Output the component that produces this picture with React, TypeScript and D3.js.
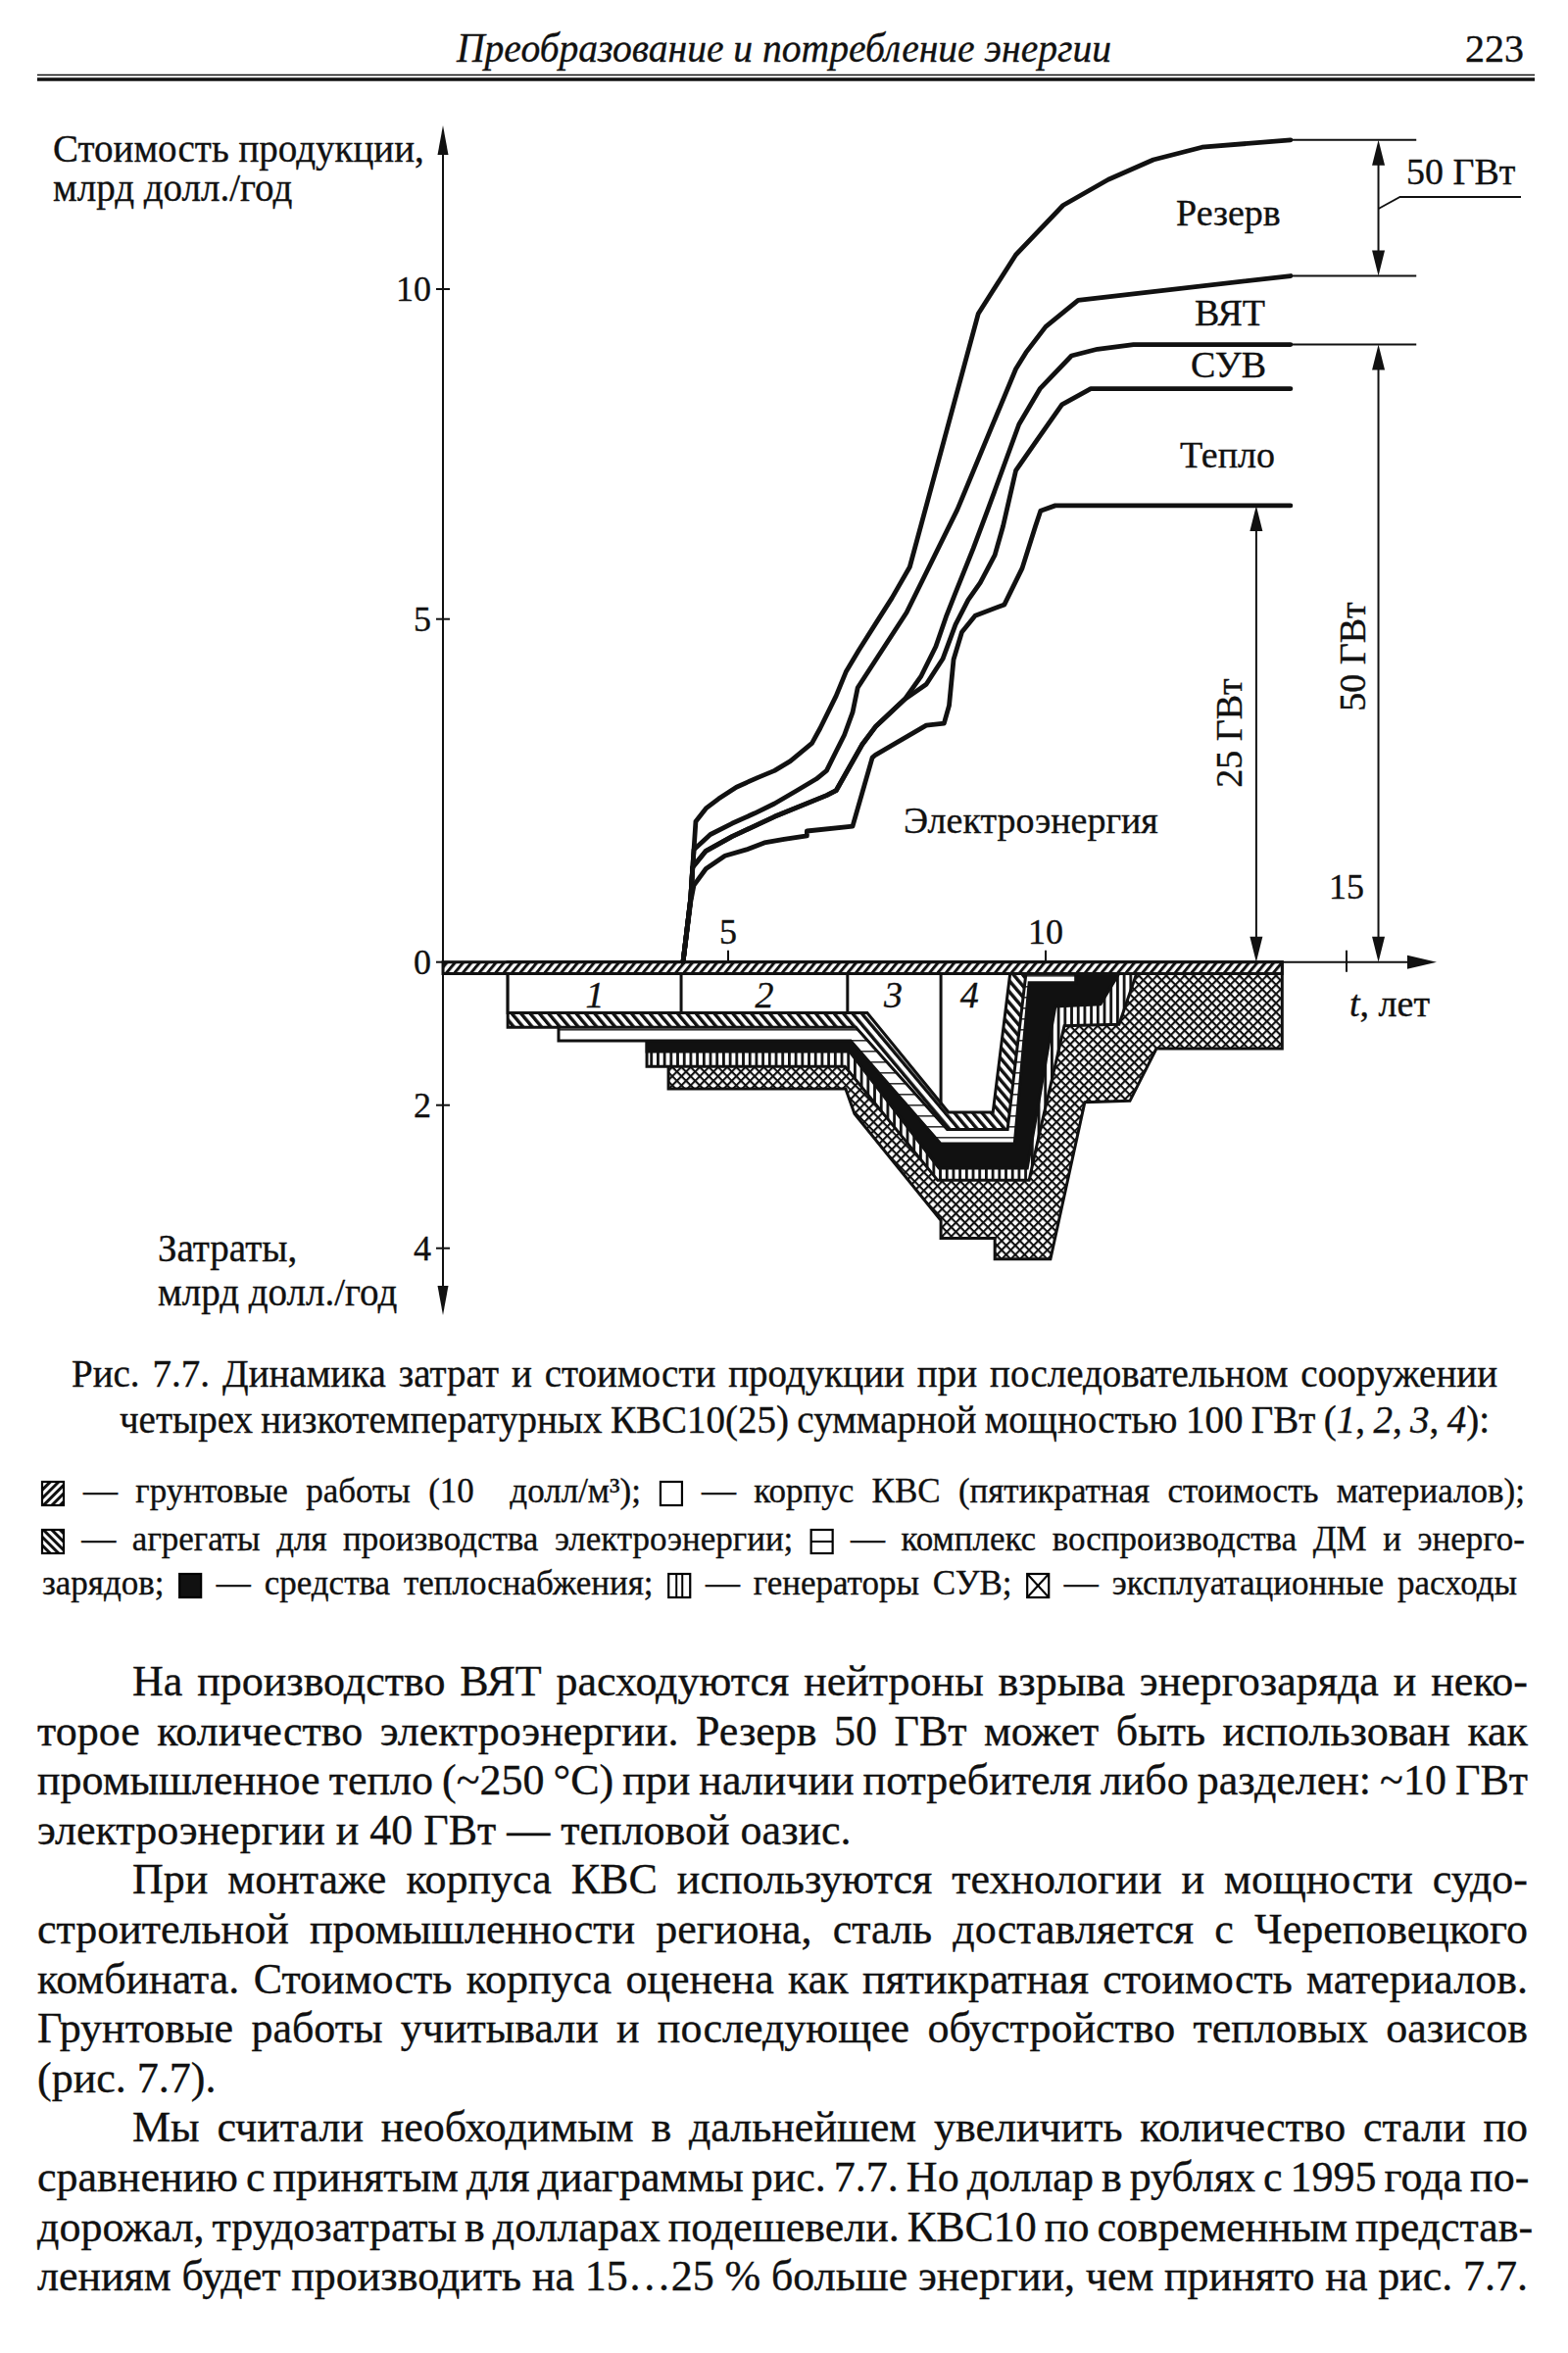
import React from 'react';
import * as d3 from 'd3';

type P = [number, number];

// ---------- axes ----------
const timeTicks = [5, 10, 15];
const valueTicks = [0, 5, 10];
const costTicks = [2, 4];
const timeTickLabels = ['5', '10', '15'];

// ---------- product value (bln $/yr) vs t (years): upper edge of each band ----------
const reserveTop: P[] = [
  [4.29, 0], [4.41, 0.93], [4.49, 2.05], [4.65, 2.24], [4.85, 2.38], [5.13, 2.55], [5.47, 2.69],
  [5.73, 2.79], [5.98, 2.93], [6.32, 3.19], [6.45, 3.41], [6.7, 3.88], [6.86, 4.24], [7.06, 4.55],
  [7.32, 4.93], [7.58, 5.32], [7.86, 5.79], [8.94, 9.63], [9.53, 10.52], [10.29, 11.27],
  [11.04, 11.66], [11.79, 11.96], [12.6, 12.15], [14.07, 12.26],
];
const vytTop: P[] = [
  [4.29, 0], [4.41, 0.93], [4.46, 1.64], [4.72, 1.86], [5.06, 2.02], [5.42, 2.17], [5.73, 2.31],
  [6.08, 2.5], [6.39, 2.67], [6.55, 2.79], [6.7, 3.07], [6.83, 3.31], [6.96, 3.64], [7.04, 4.0],
  [7.81, 5.1], [8.61, 6.66], [9.53, 8.79], [9.69, 9.04], [10.0, 9.43], [10.54, 9.83], [14.07, 10.2],
];
const suvTop: P[] = [
  [4.29, 0], [4.41, 0.93], [4.44, 1.38], [4.65, 1.62], [5.06, 1.83], [5.73, 2.12], [6.55, 2.43],
  [6.7, 2.5], [7.11, 3.17], [7.32, 3.43], [7.78, 3.83], [8.04, 4.17], [8.27, 4.6], [8.43, 5.03],
  [8.58, 5.4], [8.86, 6.07], [9.09, 6.66], [9.58, 7.95], [9.91, 8.49], [10.43, 8.99], [10.86, 9.09],
  [11.46, 9.16], [14.07, 9.16],
];
const heatTop: P[] = [
  [4.29, 0], [4.41, 0.93], [4.44, 1.38], [4.65, 1.62], [5.06, 1.83], [5.73, 2.12], [6.55, 2.43],
  [6.7, 2.5], [7.11, 3.17], [7.32, 3.43], [7.78, 3.83], [8.12, 4.05], [8.38, 4.42], [8.58, 4.92],
  [8.78, 5.29], [8.97, 5.55], [9.2, 5.97], [9.33, 6.41], [9.53, 7.25], [9.89, 7.75], [10.27, 8.25],
  [10.75, 8.49], [14.07, 8.49],
];
const elecTop: P[] = [
  [4.29, 0], [4.41, 0.88], [4.46, 1.12], [4.65, 1.36], [4.95, 1.55], [5.29, 1.64], [5.57, 1.74],
  [5.88, 1.79], [6.24, 1.84], [6.24, 1.91], [6.96, 1.98], [7.27, 2.98], [7.32, 3.02], [8.12, 3.45],
  [8.4, 3.48], [8.48, 3.74], [8.55, 4.41], [8.68, 4.81], [8.89, 5.05], [9.35, 5.22], [9.63, 5.77],
  [9.84, 6.41], [9.92, 6.64], [10.16, 6.72], [14.07, 6.72],
];

// ---------- costs (bln $/yr), cumulative lower edge of each layer ----------
const costGround: P[] = [[0.51, 0.16], [13.93, 0.16]];
const costHull: P[] = [[1.53, 0.71], [7.19, 0.71], [8.47, 2.1], [9.17, 2.1], [9.44, 0.16]];
const costAggregates: P[] = [[1.53, 0.91], [7.01, 0.91], [8.45, 2.34], [9.4, 2.34], [9.69, 0.16]];
const costDM: P[] = [[2.33, 1.1], [6.93, 1.1], [8.35, 2.54], [9.51, 2.54], [9.74, 0.29], [10.5, 0.29], [10.5, 0.16]];
const costHeat: P[] = [[3.72, 1.25], [6.91, 1.25], [8.32, 2.88], [9.71, 2.88], [10.16, 0.62], [10.91, 0.59], [11.22, 0.16]];
const costSUV: P[] = [[3.72, 1.46], [6.84, 1.46], [8.3, 3.05], [9.74, 3.05], [9.89, 2.44], [10.31, 0.89], [11.22, 0.87], [11.51, 0.16]];
const costOperating: P[] = [
  [4.06, 1.77], [6.85, 1.77], [6.99, 2.12], [8.35, 3.61], [8.35, 3.86], [9.2, 3.86], [9.2, 4.15],
  [10.08, 4.15], [10.65, 1.96], [11.4, 1.94], [11.84, 1.21], [13.93, 1.21],
];

// units 1..4 (hull boxes)
const unitNames = ['1', '2', '3', '4'];
const unitLabelT = [2.9, 5.57, 7.6, 8.8];
const unitSeparators: P[] = [[4.26, 0.71], [6.88, 0.71], [8.35, 2.0]];

// annotation anchors (t)
const dim25T = 13.5;
const dim50T = 15.53;
const extensionEndT = 16.16;

// ---------- text ----------
const headerTitle = 'Преобразование и потребление энергии';
const pageNumber = '223';
const bandLabels = ['Резерв', 'ВЯТ', 'СУВ', 'Тепло', 'Электроэнергия'];

const captionLine1 = 'Рис. 7.7. Динамика затрат и стоимости продукции при последовательном сооружении';
const captionLine2 = 'четырех низкотемпературных КВС10(25) суммарной мощностью 100 ГВт (';

type LItem = string | { icon: string };
const legendLines: LItem[][] = [
  [{ icon: 'ground' }, '— грунтовые работы (10  долл/м³);', { icon: 'hull' }, '— корпус КВС (пятикратная стоимость материалов);'],
  [{ icon: 'agg' }, '— агрегаты для производства электроэнергии;', { icon: 'dm' }, '— комплекс воспроизводства ДМ и энерго-'],
  ['зарядов;', { icon: 'heat' }, '— средства теплоснабжения;', { icon: 'suv' }, '— генераторы СУВ;', { icon: 'op' }, '— эксплуатационные расходы'],
];

const bodyLines: { text: string; indent?: boolean; last?: boolean }[] = [
  { text: 'На производство ВЯТ расходуются нейтроны взрыва энергозаряда и неко-', indent: true },
  { text: 'торое количество электроэнергии. Резерв 50 ГВт может быть использован как' },
  { text: 'промышленное тепло (~250 °С) при наличии потребителя либо разделен: ~10 ГВт' },
  { text: 'электроэнергии и 40 ГВт — тепловой оазис.', last: true },
  { text: 'При монтаже корпуса КВС используются технологии и мощности судо-', indent: true },
  { text: 'строительной промышленности региона, сталь доставляется с Череповецкого' },
  { text: 'комбината. Стоимость корпуса оценена как пятикратная стоимость материалов.' },
  { text: 'Грунтовые работы учитывали и последующее обустройство тепловых оазисов' },
  { text: '(рис. 7.7).', last: true },
  { text: 'Мы считали необходимым в дальнейшем увеличить количество стали по', indent: true },
  { text: 'сравнению с принятым для диаграммы рис. 7.7. Но доллар в рублях с 1995 года по-' },
  { text: 'дорожал, трудозатраты в долларах подешевели. КВС10 по современным представ-' },
  { text: 'лениям будет производить на 15…25 % больше энергии, чем принято на рис. 7.7.' },
];

const FONT = '"Liberation Serif", "Times New Roman", serif';

let ctx: CanvasRenderingContext2D | null = null;
function measure(s: string, size: number, italic = false): number {
  if (!ctx && typeof document !== 'undefined') ctx = document.createElement('canvas').getContext('2d');
  if (!ctx) return s.length * size * 0.45;
  ctx.font = `${italic ? 'italic ' : ''}${size}px "Liberation Serif"`;
  return ctx.measureText(s).width;
}
const countSpaces = (s: string) => (s.match(/ /g) || []).length;

type Seg = { t: string; i?: boolean };
function JText({ x, y, size, width, segs }: { x: number; y: number; size: number; width?: number; segs: Seg[] }) {
  const full = segs.map((s) => s.t).join('');
  const w = segs.reduce((a, s) => a + measure(s.t, size, !!s.i), 0);
  const spaces = countSpaces(full);
  let ws = width && spaces ? (width - w) / spaces : 0;
  if (ws < -3) ws = -3;
  return (
    <text x={x} y={y} fontSize={size} style={{ wordSpacing: `${ws}px`, whiteSpace: 'pre' }}>
      {segs.map((s, k) => (
        <tspan key={k} fontStyle={s.i ? 'italic' : undefined}>{s.t}</tspan>
      ))}
    </text>
  );
}

function tri(xt: number, yt: number, dir: 'up' | 'down' | 'right', len = 26, hw = 6.5): string {
  if (dir === 'up') return `${xt},${yt} ${xt - hw},${yt + len} ${xt + hw},${yt + len}`;
  if (dir === 'down') return `${xt},${yt} ${xt - hw},${yt - len} ${xt + hw},${yt - len}`;
  return `${xt},${yt} ${xt - len},${yt - hw} ${xt - len},${yt + hw}`;
}

const ICON_W = 22;
const ICON_H = 24;
function LegendIcon({ x, y, kind }: { x: number; y: number; kind: string }) {
  const w = ICON_W, h = ICON_H;
  const fills: Record<string, string> = { ground: 'url(#pGroundS)', agg: 'url(#pAggS)', heat: '#111' };
  return (
    <g>
      <rect x={x} y={y} width={w} height={h} fill={fills[kind] || '#fff'} stroke="#000" strokeWidth={2.2} />
      {kind === 'dm' && <line x1={x} x2={x + w} y1={y + h / 2} y2={y + h / 2} stroke="#000" strokeWidth={2} />}
      {kind === 'suv' && (
        <g stroke="#000" strokeWidth={2}>
          <line x1={x + 8} x2={x + 8} y1={y} y2={y + h} />
          <line x1={x + 14} x2={x + 14} y1={y} y2={y + h} />
        </g>
      )}
      {kind === 'op' && (
        <g stroke="#000" strokeWidth={2}>
          <line x1={x} x2={x + w} y1={y} y2={y + h} />
          <line x1={x + w} x2={x} y1={y} y2={y + h} />
        </g>
      )}
    </g>
  );
}

function LegendLine({ items, x0, x1, y, size }: { items: LItem[]; x0: number; x1: number; y: number; size: number }) {
  const gap = size * 0.3;
  const widths = items.map((it) => (typeof it === 'string' ? measure(it, size) : ICON_W));
  const natural = widths.reduce((a, b) => a + b, 0) + gap * (items.length - 1);
  const nSpaces = items.reduce((a, it) => a + (typeof it === 'string' ? countSpaces(it) : 0), 0) + (items.length - 1);
  const extra = nSpaces ? (x1 - x0 - natural) / nSpaces : 0;
  let cx = x0;
  const out: React.ReactNode[] = [];
  items.forEach((it, k) => {
    if (typeof it === 'string') {
      out.push(
        <text key={k} x={cx} y={y} fontSize={size} style={{ wordSpacing: `${extra}px`, whiteSpace: 'pre' }}>{it}</text>
      );
      cx += widths[k] + countSpaces(it) * extra;
    } else {
      out.push(<LegendIcon key={k} x={cx} y={y - 21} kind={it.icon} />);
      cx += ICON_W;
    }
    cx += gap + extra;
  });
  return <g>{out}</g>;
}

export default function App() {
  const x = d3.scaleLinear().domain(timeTicks).range([743, 1067, 1374]);
  const y = d3.scaleLinear().domain(valueTicks).range([981.7, 631.7, 295]);
  const yc = d3.scaleLinear().domain([0, 4]).range([981.7, 1273.7]);

  const valueLine = d3.line<P>().x((d) => x(d[0])).y((d) => y(d[1]));
  const costArea = d3.area<P>().x((d) => x(d[0])).y0(yc(0)).y1((d) => yc(d[1]));

  const axisX = 452;
  const axisY = y(0);

  const costLayers = [
    { data: costOperating, fill: 'url(#pOp)' },
    { data: costSUV, fill: 'url(#pSUV)' },
    { data: costHeat, fill: '#111' },
    { data: costDM, fill: 'url(#pDM)' },
    { data: costAggregates, fill: 'url(#pAgg)' },
    { data: costHull, fill: '#fff' },
    { data: costGround, fill: 'url(#pGround)' },
  ];
  const curves = [reserveTop, vytTop, suvTop, heatTop, elecTop];

  const endT = reserveTop[reserveTop.length - 1][0];
  const extended = [reserveTop, vytTop, suvTop].map((c) => c[c.length - 1][1]);
  const elecEnd = elecTop[elecTop.length - 1][1];
  const suvEnd = suvTop[suvTop.length - 1][1];
  const dx25 = x(dim25T);
  const dx50 = x(dim50T);

  const bodyTop = 1730;
  const bodyStep = 50.6;
  const bodySize = 44;
  const legendSize = 35;
  const legendY = [1533, 1582, 1627];
  const legendRight = [1556, 1556, 1548];

  return (
    <svg
      width={1600}
      height={2401}
      viewBox="0 0 1600 2401"
      style={{ position: 'absolute', left: 0, top: 0, background: '#fff' }}
      fontFamily={FONT}
      fill="#111"
    >
      <style>{'text { stroke: #111; stroke-width: 0.35px; }'}</style>
      <defs>
        <pattern id="pGround" width="6.4" height="6.4" patternUnits="userSpaceOnUse" patternTransform="rotate(40)">
          <rect width="6.4" height="6.4" fill="#fff" />
          <rect width="3" height="6.4" fill="#111" />
        </pattern>
        <pattern id="pAgg" width="7.2" height="7.2" patternUnits="userSpaceOnUse" patternTransform="rotate(-40)">
          <rect width="7.2" height="7.2" fill="#fff" />
          <rect width="3.4" height="7.2" fill="#111" />
        </pattern>
        <pattern id="pGroundS" width="6" height="6" patternUnits="userSpaceOnUse" patternTransform="rotate(45)">
          <rect width="6" height="6" fill="#fff" />
          <rect width="3" height="6" fill="#111" />
        </pattern>
        <pattern id="pAggS" width="6" height="6" patternUnits="userSpaceOnUse" patternTransform="rotate(-45)">
          <rect width="6" height="6" fill="#fff" />
          <rect width="3" height="6" fill="#111" />
        </pattern>
        <pattern id="pDM" width="10" height="11" patternUnits="userSpaceOnUse">
          <rect width="10" height="11" fill="#fff" />
          <rect y="5" width="10" height="1.6" fill="#333" />
        </pattern>
        <pattern id="pSUV" width="6.7" height="10" patternUnits="userSpaceOnUse">
          <rect width="6.7" height="10" fill="#fff" />
          <rect width="2.8" height="10" fill="#111" />
        </pattern>
        <pattern id="pOp" width="6.6" height="6.6" patternUnits="userSpaceOnUse" patternTransform="rotate(45)">
          <rect width="6.6" height="6.6" fill="#fff" />
          <rect width="6.6" height="2.1" fill="#111" />
          <rect width="2.1" height="6.6" fill="#111" />
        </pattern>
      </defs>

      <rect width={1600} height={2401} fill="#fff" />

      {/* header */}
      <text x={800} y={63} fontSize={42} fontStyle="italic" textAnchor="middle" textLength={668} lengthAdjust="spacingAndGlyphs">
        {headerTitle}
      </text>
      <text x={1555} y={63} fontSize={40} textAnchor="end">{pageNumber}</text>
      <line x1={38} x2={1566} y1={76.5} y2={76.5} stroke="#111" strokeWidth={1.5} />
      <line x1={38} x2={1566} y1={81} y2={81} stroke="#111" strokeWidth={3.5} />

      {/* cost layers (painted deepest first) */}
      {costLayers.map((l, i) => (
        <path key={i} d={costArea(l.data) || ''} fill={l.fill} stroke="#111" strokeWidth={3} strokeLinejoin="miter" />
      ))}
      {unitSeparators.map((s, i) => (
        <line key={i} x1={x(s[0])} x2={x(s[0])} y1={yc(0.16)} y2={yc(s[1])} stroke="#111" strokeWidth={3} />
      ))}
      {unitNames.map((n, i) => (
        <text key={n} x={x(unitLabelT[i])} y={yc(0.63)} fontSize={38} fontStyle="italic" textAnchor="middle">{n}</text>
      ))}

      {/* axes */}
      <line x1={axisX} x2={axisX} y1={150} y2={1320} stroke="#111" strokeWidth={2} />
      <polygon points={tri(axisX, 128, 'up', 30, 5.5)} fill="#111" />
      <polygon points={tri(axisX, 1342, 'down', 30, 5.5)} fill="#111" />
      <line x1={axisX} x2={1440} y1={axisY} y2={axisY} stroke="#111" strokeWidth={2} />
      <polygon points={tri(1466, axisY, 'right', 30, 7)} fill="#111" />

      {valueTicks.map((v) => (
        <g key={'v' + v}>
          <line x1={axisX - 7} x2={axisX + 7} y1={y(v)} y2={y(v)} stroke="#111" strokeWidth={2} />
          <text x={440} y={y(v) + 12} fontSize={36} textAnchor="end">{v}</text>
        </g>
      ))}
      {costTicks.map((v) => (
        <g key={'c' + v}>
          <line x1={axisX - 7} x2={axisX + 7} y1={yc(v)} y2={yc(v)} stroke="#111" strokeWidth={2} />
          <text x={440} y={yc(v) + 12} fontSize={36} textAnchor="end">{v}</text>
        </g>
      ))}
      {timeTicks.map((t, i) => (
        <g key={'t' + t}>
          <line x1={x(t)} x2={x(t)} y1={axisY - 12} y2={t === 15 ? axisY + 10 : axisY} stroke="#111" strokeWidth={2} />
          <text x={x(t)} y={t === 15 ? 917 : 963} fontSize={36} textAnchor="middle">{timeTickLabels[i]}</text>
        </g>
      ))}
      <text x={1377} y={1037} fontSize={38}>
        <tspan fontStyle="italic">t</tspan>, лет
      </text>

      <text x={54} y={165} fontSize={39}>Стоимость продукции,</text>
      <text x={54} y={205} fontSize={39}>млрд долл./год</text>
      <text x={161} y={1287} fontSize={39}>Затраты,</text>
      <text x={161} y={1332} fontSize={39}>млрд долл./год</text>

      {/* value curves */}
      {curves.map((c, i) => (
        <path key={i} d={valueLine(c) || ''} fill="none" stroke="#111" strokeWidth={4.8} strokeLinejoin="round" strokeLinecap="round" />
      ))}

      {/* dimension lines */}
      {extended.map((v, i) => (
        <line key={i} x1={x(endT)} x2={x(extensionEndT)} y1={y(v)} y2={y(v)} stroke="#111" strokeWidth={2} />
      ))}
      <line x1={dx50} x2={dx50} y1={y(extended[0]) + 20} y2={y(extended[1]) - 20} stroke="#111" strokeWidth={2} />
      <polygon points={tri(dx50, y(extended[0]), 'up')} fill="#111" />
      <polygon points={tri(dx50, y(extended[1]), 'down')} fill="#111" />
      <polyline points={`${dx50},${213} ${dx50 + 22},${201} ${1552},${201}`} fill="none" stroke="#111" strokeWidth={1.8} />
      <text x={1435} y={188} fontSize={38}>50 ГВт</text>

      <line x1={dx50} x2={dx50} y1={y(suvEnd) + 20} y2={axisY - 20} stroke="#111" strokeWidth={2} />
      <polygon points={tri(dx50, y(suvEnd), 'up')} fill="#111" />
      <polygon points={tri(dx50, axisY, 'down')} fill="#111" />
      <text transform={`translate(1393,670) rotate(-90)`} fontSize={38} textAnchor="middle">50 ГВт</text>

      <line x1={dx25} x2={dx25} y1={y(elecEnd) + 20} y2={axisY - 20} stroke="#111" strokeWidth={2} />
      <polygon points={tri(dx25, y(elecEnd), 'up')} fill="#111" />
      <polygon points={tri(dx25, axisY, 'down')} fill="#111" />
      <text transform={`translate(1267,748) rotate(-90)`} fontSize={38} textAnchor="middle">25 ГВт</text>

      {/* band labels */}
      <text x={1200} y={230} fontSize={38}>{bandLabels[0]}</text>
      <text x={1219} y={332} fontSize={38}>{bandLabels[1]}</text>
      <text x={1215} y={385} fontSize={38}>{bandLabels[2]}</text>
      <text x={1204} y={477} fontSize={38}>{bandLabels[3]}</text>
      <text x={922} y={850} fontSize={38}>{bandLabels[4]}</text>

      {/* caption */}
      <JText x={73} y={1415} size={39} width={1455} segs={[{ t: captionLine1 }]} />
      <JText
        x={122}
        y={1462}
        size={39}
        width={1398}
        segs={[
          { t: captionLine2 },
          { t: '1', i: true }, { t: ', ' }, { t: '2', i: true }, { t: ', ' },
          { t: '3', i: true }, { t: ', ' }, { t: '4', i: true }, { t: '):' },
        ]}
      />

      {/* legend */}
      {legendLines.map((items, i) => (
        <LegendLine key={i} items={items} x0={43} x1={legendRight[i]} y={legendY[i]} size={legendSize} />
      ))}

      {/* body text */}
      {bodyLines.map((l, i) => {
        const x0 = l.indent ? 135 : 38;
        return (
          <JText
            key={i}
            x={x0}
            y={bodyTop + i * bodyStep}
            size={bodySize}
            width={l.last ? undefined : 1559 - x0}
            segs={[{ t: l.text }]}
          />
        );
      })}
    </svg>
  );
}
